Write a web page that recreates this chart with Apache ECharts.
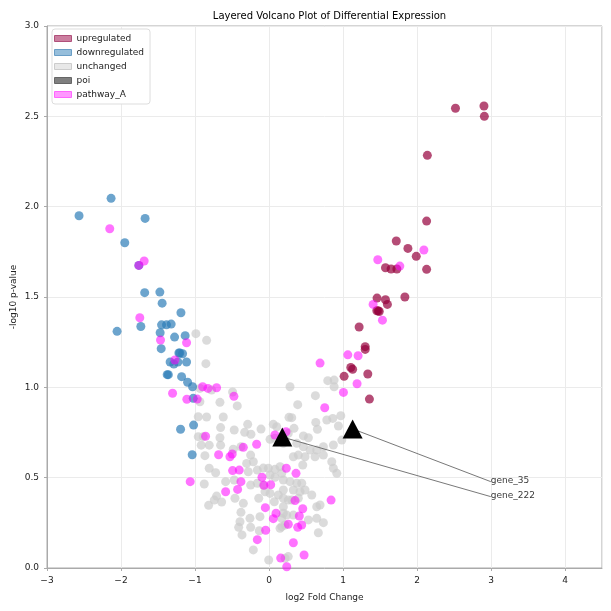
<!DOCTYPE html>
<html>
<head>
<meta charset="utf-8">
<script src="https://cdn.jsdelivr.net/npm/echarts@6/dist/echarts.min.js"></script>
<style>html,body{margin:0;padding:0;background:#fff}#c{width:611px;height:611px}</style>
</head>
<body>
<div id="c"></div>
<script>
var upregulated = [[2.52,2.545],[2.905,2.557],[2.91,2.50],[2.14,2.284],[2.13,1.92],[1.72,1.81],[1.877,1.769],[1.99,1.725],[2.13,1.653],[1.574,1.662],[1.65,1.655],[1.728,1.655],[1.836,1.50],[1.46,1.494],[1.574,1.485],[1.60,1.459],[1.457,1.424],[1.475,1.424],[1.49,1.42],[1.218,1.334],[1.30,1.225],[1.30,1.21],[1.105,1.11],[1.13,1.10],[1.015,1.061],[1.335,1.074],[1.357,0.935]];
var downregulated = [[-2.134,2.046],[-2.567,1.95],[-1.674,1.935],[-1.949,1.80],[-1.759,1.675],[-1.68,1.524],[-1.475,1.527],[-1.444,1.466],[-1.19,1.413],[-1.732,1.337],[-2.053,1.31],[-1.452,1.346],[-1.385,1.346],[-1.322,1.35],[-1.471,1.302],[-1.457,1.214],[-1.276,1.278],[-1.133,1.286],[-1.218,1.19],[-1.205,1.19],[-1.168,1.186],[-1.336,1.14],[-1.286,1.129],[-1.231,1.14],[-1.114,1.14],[-1.376,1.07],[-1.36,1.07],[-1.181,1.059],[-1.1,1.028],[-1.033,1.003],[-1.024,0.939],[-1.019,0.791],[-1.195,0.768],[-1.038,0.627]];
var unchanged = [[0.284,1.003],[0.794,1.037],[0.88,1.04],[0.88,1.003],[0.627,0.954],[0.388,0.904],
[-0.988,1.297],[-0.843,1.26],[-0.853,1.131],[-0.492,0.974],[-0.429,0.897],[-0.663,0.917],[-0.934,0.92],[-0.956,0.837],[-0.843,0.836],[-0.618,0.836],[-0.654,0.777],[-0.47,0.764],[-0.288,0.795],[-0.329,0.751],[-0.244,0.74],[-0.108,0.769],[-0.956,0.727],[-0.889,0.727],[-0.663,0.721],[-0.916,0.68],[-0.808,0.68],[-0.654,0.68],[-0.483,0.657],[-0.379,0.671],[0.014,0.712],[0.104,0.782],[0.26,0.745],[0.27,0.834],[-0.934,0.994],[-0.776,0.985],
[-0.866,0.622],[-0.808,0.552],[-0.721,0.527],[-0.875,0.465],[-0.248,0.625],[-0.302,0.579],[-0.212,0.588],[-0.28,0.533],[-0.158,0.542],[-0.586,0.478],[-0.47,0.487],[-0.248,0.459],[-0.708,0.398],[-0.64,0.365],[-0.74,0.376],[-0.816,0.347],[-0.46,0.386],[-0.347,0.358],[-0.139,0.386],[-0.379,0.308],[-0.392,0.256],[-0.257,0.275],[-0.122,0.284],[-0.41,0.225],[-0.248,0.225],[-0.365,0.183],[-0.131,0.206],[-0.212,0.1],[-0.004,0.044],[0.149,0.22],[0.172,0.275],[0.26,0.063],[-0.077,0.553],[-0.009,0.552],[0.081,0.546],[0.149,0.561],[0.014,0.515],[0.081,0.502],[0.172,0.524],[-0.158,0.469],[-0.077,0.459],[0.126,0.404],[0.194,0.386],[0.26,0.376],[0.072,0.367],[0.194,0.339],[-0.054,0.422],[0.014,0.413],
[0.194,0.69],[0.375,0.69],[0.465,0.671],[0.555,0.653],[0.645,0.653],[0.735,0.671],[0.87,0.681],[0.984,0.708],[0.329,0.616],[0.396,0.625],[0.487,0.616],[0.622,0.616],[0.735,0.625],[0.848,0.588],[0.456,0.57],[0.87,0.552],[0.916,0.524],[0.194,0.487],[0.284,0.478],[0.375,0.469],[0.442,0.469],[0.194,0.432],[0.329,0.432],[0.42,0.422],[0.487,0.432],[0.578,0.404],[0.307,0.376],[0.396,0.386],[0.645,0.339],[0.69,0.349],[0.194,0.303],[0.24,0.293],[0.329,0.293],[0.532,0.266],[0.645,0.275],[0.735,0.251],[0.667,0.195],[0.172,0.229],[0.217,0.238],[0.217,0.054],
[0.97,0.843],[0.862,0.828],[0.781,0.819],[0.632,0.806],[0.307,0.832],[0.338,0.773],[0.654,0.768],[0.938,0.786],[0.465,0.731],[0.532,0.721],[0.058,0.795],[0.081,0.718],[0.22,0.708]];
var pathwayA = [[2.093,1.76],[1.47,1.706],[1.768,1.671],[1.407,1.459],[1.533,1.372],[1.065,1.18],[1.204,1.175],[0.69,1.134],[1.19,1.02],[1.006,0.972],[0.753,0.887],
[-2.152,1.878],[-1.687,1.699],[-1.759,1.675],[-1.746,1.385],[-1.466,1.262],[-1.114,1.247],[-1.272,1.151],[-0.897,1.003],[-0.825,0.994],[-0.708,0.998],[-1.303,0.967],[-1.11,0.934],[-0.97,0.935],
[-0.474,0.95],[-0.857,0.729],[-0.347,0.668],[-0.167,0.685],[0.08,0.736],[0.23,0.754],
[-0.681,0.627],[-0.528,0.616],[-0.497,0.631],[-1.065,0.478],[-0.492,0.539],[-0.402,0.542],[-0.379,0.478],[-0.586,0.422],[-0.424,0.435],[-0.095,0.502],[-0.068,0.458],[0.023,0.461],[0.234,0.552],[-0.05,0.334],[0.095,0.303],[0.058,0.273],[-0.045,0.209],[-0.158,0.157],[0.158,0.055],[0.24,0.007],
[0.365,0.524],[0.352,0.373],[0.456,0.328],[0.41,0.288],[0.839,0.376],[0.261,0.242],[0.388,0.225],[0.442,0.238],[0.329,0.14],[0.474,0.072]];
var poi = [[0.18,0.725],[1.13,0.77]];
var poiLabels = ['gene_222','gene_35'];
var labelPos = [[2.997,0.395],[2.997,0.478]];

var chart = echarts.init(document.getElementById('c'), null, {renderer:'canvas'});
var FONT = 'DejaVu Sans';
var series = [
  {name:'unchanged', type:'scatter', data:unchanged, symbolSize:9, itemStyle:{color:'#cccccc', opacity:0.7}, z:2},
  {name:'downregulated', type:'scatter', data:downregulated, symbolSize:9, itemStyle:{color:'#2e7db8', opacity:0.7}, z:3},
  {name:'upregulated', type:'scatter', data:upregulated, symbolSize:9, itemStyle:{color:'#96003c', opacity:0.7}, z:4},
  {name:'pathway_A', type:'scatter', data:pathwayA, symbolSize:9, itemStyle:{color:'#ff00ff', opacity:0.55}, z:5}
];
poi.forEach(function(p,i){
  series.push({type:'line', data:[p, labelPos[i]], symbol:'none', silent:true, z:6,
    lineStyle:{color:'#555555', width:0.8}});
  series.push({type:'scatter', data:[{value:labelPos[i], label:{show:true, formatter:poiLabels[i]}}], symbolSize:0, silent:true, z:7,
    label:{position:'right', distance:0, offset:[0,-1], color:'#000', fontSize:9, fontFamily:FONT}});
});
series.push({name:'poi', type:'scatter', data:poi, symbol:'triangle', symbolSize:[20,19], itemStyle:{color:'#000000', opacity:1}, z:8});

chart.setOption({
  animation:false,
  backgroundColor:'#ffffff',
  title:{text:'Layered Volcano Plot of Differential Expression', left:324.5, top:6, textAlign:'center',
    textStyle:{fontFamily:FONT, fontSize:10, fontWeight:'normal', color:'#000'}},
  legend:{
    orient:'vertical', left:52, top:29, padding:[4,6,4,2], itemGap:3, itemWidth:17, itemHeight:6,
    backgroundColor:'#ffffff', borderColor:'#dddddd', borderWidth:1, borderRadius:3,
    textStyle:{fontFamily:FONT, fontSize:9, color:'#222', lineHeight:11},
    data:[
      {name:'upregulated', icon:'rect', itemStyle:{color:'rgba(160,20,80,0.55)', borderColor:'#b0507a', borderWidth:1, opacity:1}},
      {name:'downregulated', icon:'rect', itemStyle:{color:'rgba(46,125,184,0.5)', borderColor:'#6a9ec6', borderWidth:1, opacity:1}},
      {name:'unchanged', icon:'rect', itemStyle:{color:'rgba(204,204,204,0.45)', borderColor:'#cccccc', borderWidth:1, opacity:1}},
      {name:'poi', icon:'rect', itemStyle:{color:'rgba(0,0,0,0.5)', borderColor:'#666666', borderWidth:1, opacity:1}},
      {name:'pathway_A', icon:'rect', itemStyle:{color:'rgba(255,0,255,0.4)', borderColor:'#ff66ff', borderWidth:1, opacity:1}}
    ]
  },
  grid:{left:47, right:9, top:26, bottom:43, containLabel:false, outerBoundsMode:'none', show:true, borderColor:'#aaaaaa', borderWidth:1, backgroundColor:'transparent'},
  xAxis:{type:'value', min:-3, max:4.5, interval:1,
    name:'log2 Fold Change', nameLocation:'middle', nameGap:25, nameMoveOverlap:false,
    nameTextStyle:{fontFamily:FONT, fontSize:9, color:'#222'},
    axisLine:{show:true, onZero:false, lineStyle:{color:'#aaaaaa'}},
    axisTick:{show:true, length:3, lineStyle:{color:'#aaaaaa'}},
    axisLabel:{fontFamily:FONT, fontSize:9, color:'#222', margin:8, showMaxLabel:false,
      formatter:function(v){ return (v>4.2)?'':String(v).replace('-','\u2212'); }},
    splitLine:{show:true, lineStyle:{color:'#ebebeb', width:1}}
  },
  yAxis:{type:'value', min:0, max:3, interval:0.5,
    name:'', 
    axisLine:{show:true, onZero:false, lineStyle:{color:'#aaaaaa'}},
    axisTick:{show:true, length:3, lineStyle:{color:'#aaaaaa'}},
    axisLabel:{fontFamily:FONT, fontSize:9, color:'#222', margin:8,
      formatter:function(v){ return v.toFixed(1); }},
    splitLine:{show:true, lineStyle:{color:'#ebebeb', width:1}}
  },
  graphic:[{type:'text', x:14, y:297, rotation:Math.PI/2,
    style:{text:'-log10 p-value', fontFamily:FONT, fontSize:9, fill:'#222', align:'center', verticalAlign:'middle'}}],
  series:series
});
</script>
</body>
</html>
